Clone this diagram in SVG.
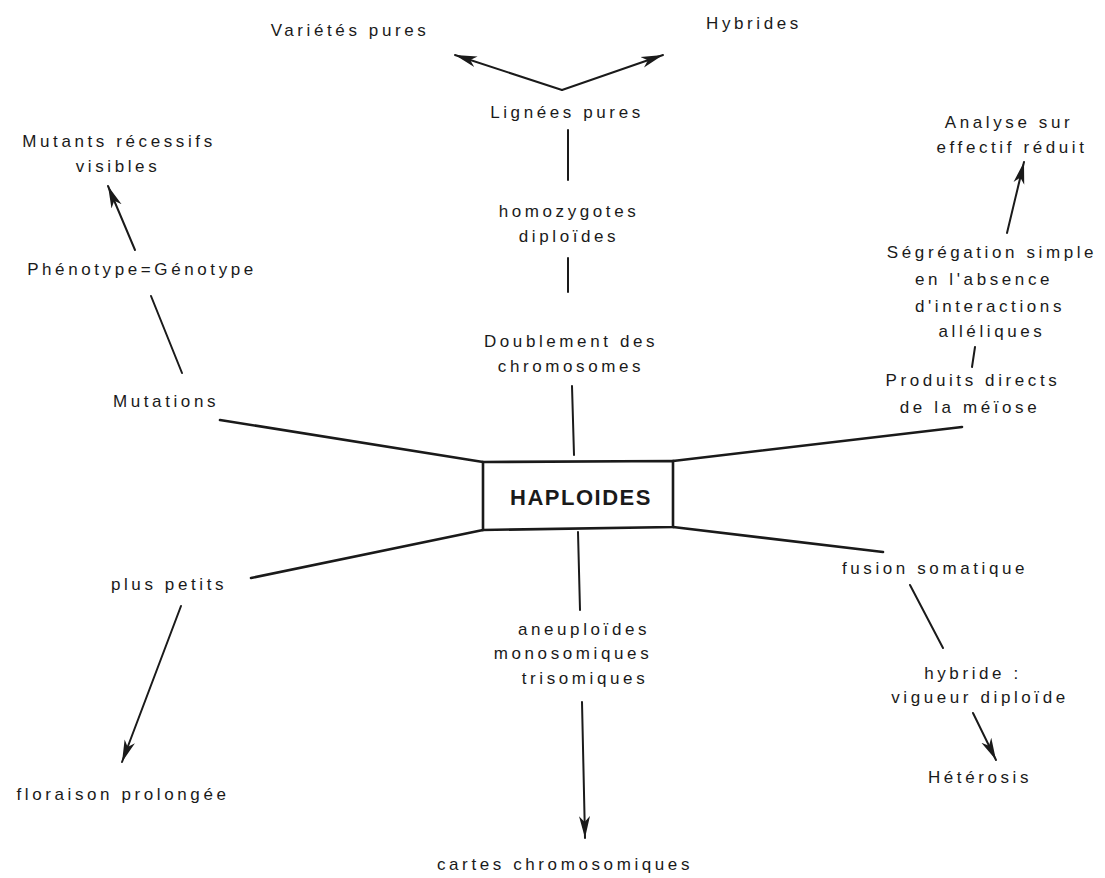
<svg xmlns="http://www.w3.org/2000/svg" width="1105" height="878" viewBox="0 0 1105 878">
<style>
.t{font-family:"Liberation Sans",Arial,sans-serif;font-size:17px;letter-spacing:3.6px;fill:#1a1a1a;text-anchor:middle}
.ln{stroke:#1a1a1a;stroke-width:2;fill:none;stroke-linecap:round}
.bx{stroke:#1a1a1a;stroke-width:2.6;fill:none;stroke-linecap:round}
.ar{stroke:#1a1a1a;stroke-width:2;fill:none;stroke-linecap:round;marker-end:url(#ah)}
.hub{font-family:"Liberation Sans",Arial,sans-serif;font-size:22px;font-weight:bold;letter-spacing:1.5px;fill:#1a1a1a;text-anchor:middle}
</style>
<defs>
<marker id="ah" markerUnits="userSpaceOnUse" markerWidth="26" markerHeight="14" refX="22" refY="7" orient="auto">
<path d="M0,1.5 L22,7 L0,12.5 L6,7 Z" fill="#1a1a1a"/>
</marker>
</defs>
<rect width="1105" height="878" fill="#fff"/>
<g id="connectors">
<path class="ar" d="M562,90 L455,55" stroke-width="3"/>
<path class="ar" d="M562,90 L663,55" stroke-width="3"/>
<path class="ln" d="M568,130 L568,180"/>
<path class="ln" d="M568,258 L568,292"/>
<path class="ln" d="M572,386 L574,455"/>
<path class="bx" d="M483,462 L220,420"/>
<path class="bx" d="M673,461 L962,427"/>
<path class="bx" d="M483,530 L251,578"/>
<path class="bx" d="M673,527 L883,552"/>
<path class="ln" d="M578,532 L580,610"/>
<path class="ar" d="M582,702 L585,838"/>
<path class="ln" d="M151,296 L182,373"/>
<path class="ar" d="M135,250 L108,186"/>
<path class="ar" d="M181,606 L122,762"/>
<path class="ln" d="M910,585 L943,648"/>
<path class="ar" d="M973,713 L996,760"/>
<path class="ln" d="M975,347 L972,367"/>
<path class="ar" d="M1007,233 L1024,162" stroke-width="3"/>
</g>
<g id="haploides">
<path d="M483,462 L673,461 L673,527 L483,530 Z" fill="#fff" stroke="#1a1a1a" stroke-width="2.6"/>
<text class="hub" x="581" y="505">HAPLOIDES</text>
</g>
<g id="varietes"><text class="t" x="350" y="36">Variétés pures</text></g>
<g id="hybrides"><text class="t" x="754" y="29">Hybrides</text></g>
<g id="lignees"><text class="t" x="567" y="118">Lignées pures</text></g>
<g id="homozygotes"><text class="t" x="569" y="217">homozygotes</text><text class="t" x="569" y="242">diploïdes</text></g>
<g id="doublement"><text class="t" x="571" y="347">Doublement des</text><text class="t" x="571" y="372">chromosomes</text></g>
<g id="aneuploides"><text class="t" x="584" y="635">aneuploïdes</text><text class="t" x="573" y="659">monosomiques</text><text class="t" x="585" y="684">trisomiques</text></g>
<g id="cartes"><text class="t" x="565" y="870">cartes chromosomiques</text></g>
<g id="mutations"><text class="t" x="166" y="407">Mutations</text></g>
<g id="phenotype"><text class="t" x="142" y="275">Phénotype=Génotype</text></g>
<g id="mutants"><text class="t" x="119" y="147">Mutants récessifs</text><text class="t" x="118" y="172">visibles</text></g>
<g id="petits"><text class="t" x="169" y="590">plus petits</text></g>
<g id="floraison"><text class="t" x="123" y="800">floraison prolongée</text></g>
<g id="fusion"><text class="t" x="935" y="574">fusion somatique</text></g>
<g id="hybride"><text class="t" x="973" y="679">hybride :</text><text class="t" x="980" y="703">vigueur diploïde</text></g>
<g id="heterosis"><text class="t" x="980" y="783">Hétérosis</text></g>
<g id="produits"><text class="t" x="973" y="386">Produits directs</text><text class="t" x="970" y="413">de la méïose</text></g>
<g id="segregation"><text class="t" x="992" y="258">Ségrégation simple</text><text class="t" x="984" y="285">en l'absence</text><text class="t" x="990" y="312">d'interactions</text><text class="t" x="992" y="337">alléliques</text></g>
<g id="analyse"><text class="t" x="1009" y="128">Analyse sur</text><text class="t" x="1012" y="153">effectif réduit</text></g>
</svg>
